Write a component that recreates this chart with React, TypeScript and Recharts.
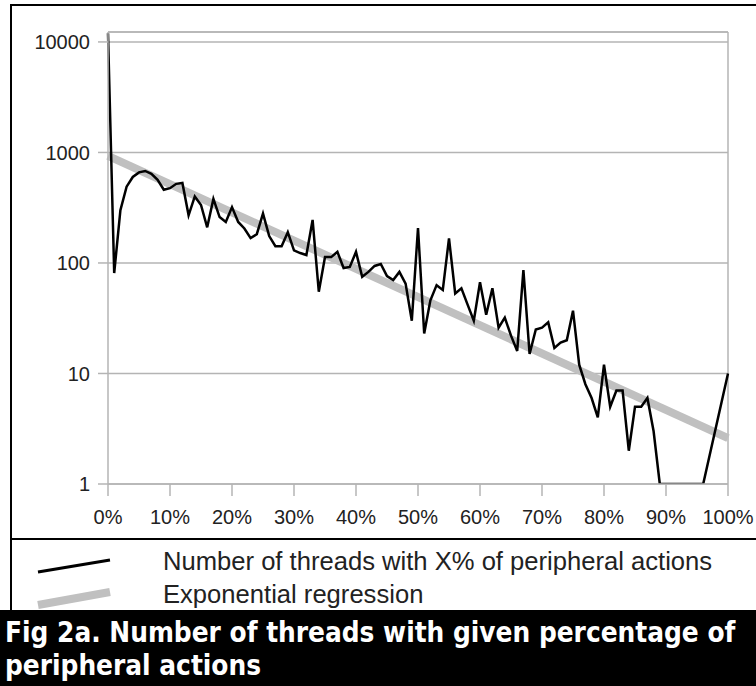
import { LineChart, Line, XAxis, YAxis, CartesianGrid, ReferenceLine } from 'recharts'

// share of peripheral actions in a thread, 0..100 %
const PCT_TICKS = [0, 10, 20, 30, 40, 50, 60, 70, 80, 90, 100]
const COUNT_TICKS = [1, 10, 100, 1000, 10000]
const Y_MAX = 12300

// number of threads for each whole percent (null = no thread, not drawn on log scale)
const THREADS: (number | null)[] = [
  12000, 81, 300, 490, 600, 660, 680, 640, 565, 460,
  475, 520, 530, 270, 400, 335, 210, 380, 260, 235,
  320, 235, 205, 168, 182, 280, 175, 142, 142, 190,
  130, 123, 118, 245, 55, 113, 113, 126, 90, 92,
  126, 75, 83, 94, 98, 76, 70, 83, 65, 30,
  207, 23, 46, 63, 57, 167, 53, 59, 42, 30,
  67, 34, 59, 26, 32, 22, 16, 86, 15, 25,
  26, 29, 17, 19, 20, 37, 12, 8, 6, 4,
  12, 5, 7, 7, 2, 5, 5, 6, 3, 1,
  1, 1, 1, 1, 1, 1, 1, null, null, null,
  10,
]

// end points of the fitted exponential (straight on a log axis)
const REGRESSION_PCT = [0, 100]
const REGRESSION_N = [930, 2.6]

const threadData = THREADS.map((n, pct) => ({ pct, n }))
const regressionData = REGRESSION_PCT.map((pct, i) => ({ pct, n: REGRESSION_N[i] }))

const GRID = '#b4b4b4'
const tickFont = { fontFamily: '"Liberation Sans", Arial, sans-serif', fontSize: 20, fill: '#222' }

function Overlay() {
  const legendFont = '"Liberation Sans", Arial, sans-serif'
  return (
    <svg width={756} height={686} style={{ position: 'absolute', left: 0, top: 0, pointerEvents: 'none' }}>
      <line x1={10} y1={5} x2={756} y2={5} stroke="#000" strokeWidth={2} />
      <line x1={11} y1={4} x2={11} y2={610} stroke="#000" strokeWidth={2} />
      <line x1={10} y1={539} x2={756} y2={539} stroke="#000" strokeWidth={2} />

      <line x1={38} y1={572} x2={110} y2={560} stroke="#000" strokeWidth={3} />
      <text x={163} y={570} fontFamily={legendFont} fontSize={25.6} fill="#222">
        Number of threads with X% of peripheral actions
      </text>
      <line x1={38} y1={605} x2={110} y2={592} stroke="#c0c0c0" strokeWidth={8} />
      <text x={163} y={603} fontFamily={legendFont} fontSize={25.6} fill="#222">
        Exponential regression
      </text>

      <rect x={0} y={610} width={756} height={76} fill="#000" />
      <g fontFamily='"DejaVu Sans Condensed", "DejaVu Sans", sans-serif' fontWeight="bold" fontSize={27.7} fill="#fff">
        <text x={5} y={642}>Fig 2a. Number of threads with given percentage of</text>
        <text x={5} y={675}>peripheral actions</text>
      </g>
    </svg>
  )
}

export default function App() {
  return (
    <div style={{ position: 'absolute', left: 0, top: 0, width: 756, height: 686, background: '#fff', overflow: 'hidden' }}>
      <LineChart width={756} height={538} margin={{ top: 32, right: 28, left: 10, bottom: 0 }}>
        <CartesianGrid vertical={false} stroke={GRID} strokeWidth={1.5} />
        <XAxis
          dataKey="pct"
          type="number"
          domain={[0, 100]}
          ticks={PCT_TICKS}
          interval={0}
          tickFormatter={(v: number) => `${v}%`}
          height={54}
          tickSize={12}
          tickMargin={14}
          axisLine={{ stroke: GRID, strokeWidth: 1.5 }}
          tickLine={{ stroke: GRID, strokeWidth: 1.5 }}
          tick={tickFont}
          allowDuplicatedCategory={false}
        />
        <YAxis
          scale="log"
          domain={[1, Y_MAX]}
          ticks={COUNT_TICKS}
          allowDataOverflow
          interval={0}
          width={98}
          tickSize={10}
          tickMargin={8}
          axisLine={{ stroke: GRID, strokeWidth: 1.5 }}
          tickLine={{ stroke: GRID, strokeWidth: 1.5 }}
          tick={tickFont}
        />
        <ReferenceLine y={Y_MAX} stroke={GRID} strokeWidth={1.5} />
        <ReferenceLine x={100} stroke={GRID} strokeWidth={1.5} />
        <Line
          data={regressionData}
          dataKey="n"
          type="linear"
          stroke="#c0c0c0"
          strokeWidth={8}
          dot={false}
          activeDot={false}
          isAnimationActive={false}
        />
        <Line
          data={threadData}
          dataKey="n"
          type="linear"
          stroke="#000"
          strokeWidth={2.5}
          strokeLinejoin="miter"
          dot={false}
          activeDot={false}
          connectNulls
          isAnimationActive={false}
        />
      </LineChart>
      <Overlay />
    </div>
  )
}
